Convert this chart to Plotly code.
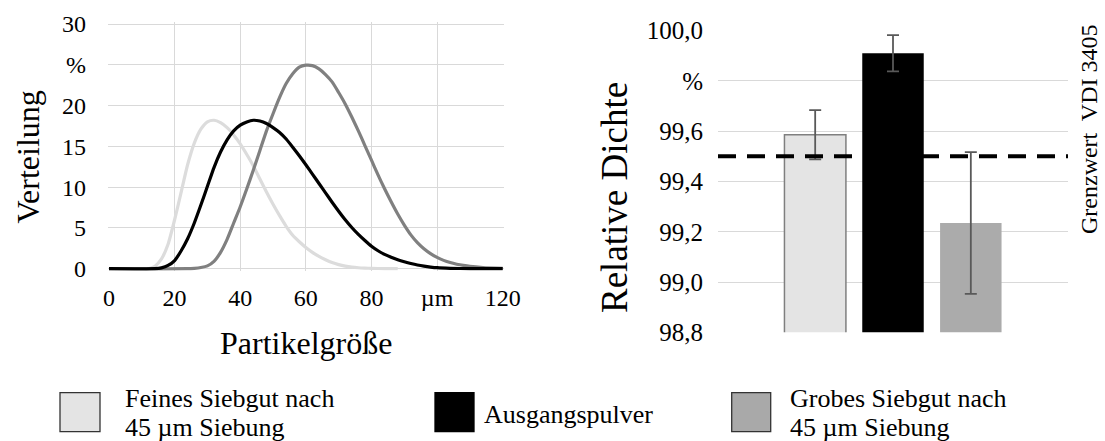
import plotly.graph_objects as go

# ---------------- data ----------------
# Partikelgrößenverteilung (µm -> %)
x_fein = [0, 10, 12, 14, 16, 18, 20, 22, 24, 26, 28, 30, 32, 34, 36, 38, 40, 42, 44, 46, 48, 50,
          52, 54, 56, 58, 60, 62, 64, 66, 68, 70, 72, 74, 76, 78, 80, 84, 88]
y_fein = [0, 0, 0, 0.3, 1.2, 3.0, 6.0, 9.4, 12.8, 15.4, 17.1, 18.0, 18.2, 17.9, 17.3, 16.4, 15.3, 14.0,
          12.6, 11.0, 9.4, 7.9, 6.5, 5.2, 4.1, 3.3, 2.6, 2.0, 1.5, 1.1, 0.75, 0.5, 0.32, 0.2, 0.12,
          0.07, 0.04, 0.01, 0]

x_ausgang = [0, 14, 16, 18, 20, 22, 24, 26, 28, 30, 32, 34, 36, 38, 40, 42, 44, 46, 48, 50, 52, 54,
             56, 58, 60, 62, 64, 66, 68, 70, 72, 74, 76, 78, 80, 82, 84, 86, 88, 90, 92, 94, 96, 98,
             100, 104, 110, 120]
y_ausgang = [0, 0, 0.1, 0.4, 1.0, 2.2, 3.7, 5.6, 7.8, 10.1, 12.4, 14.3, 15.8, 16.9, 17.6, 18.0, 18.2,
             18.1, 17.8, 17.3, 16.7, 15.9, 14.9, 13.85, 12.75, 11.6, 10.45, 9.3, 8.15, 7.05, 6.0, 5.05,
             4.2, 3.45, 2.75, 2.2, 1.75, 1.4, 1.1, 0.85, 0.63, 0.45, 0.31, 0.2, 0.12, 0.05, 0.01, 0]

x_grob = [0, 24, 26, 28, 30, 32, 34, 36, 38, 40, 42, 44, 46, 48, 50, 52, 54, 56, 58, 60, 62, 64, 66,
          68, 70, 72, 74, 76, 78, 80, 82, 84, 86, 88, 90, 92, 94, 96, 98, 100, 102, 104, 106, 108,
          110, 114, 120]
y_grob = [0, 0, 0.05, 0.15, 0.35, 0.9, 2.0, 3.6, 5.6, 7.6, 9.8, 12.1, 14.5, 16.9, 19.0, 21.0, 22.7,
          23.9, 24.7, 24.95, 24.9, 24.5, 23.8, 22.9, 21.6, 20.2, 18.6, 16.9, 15.1, 13.3, 11.5, 9.8,
          8.2, 6.7, 5.35, 4.15, 3.2, 2.45, 1.85, 1.38, 1.02, 0.75, 0.55, 0.4, 0.28, 0.14, 0.05]

x_tickvals = [0, 20, 40, 60, 80, 100, 120]
x_ticktext = ["0", "20", "40", "60", "80", "µm", "120"]
y_tickvals = [0, 5, 10, 15, 20, 25, 30]
y_ticktext = ["0", "5", "10", "15", "20", "%", "30"]

# Relative Dichte (%)
serien = ["Feines Siebgut nach 45 µm Siebung", "Ausgangspulver", "Grobes Siebgut nach 45 µm Siebung"]
dichte = [99.586, 99.910, 99.235]
dichte_err = [0.098, 0.072, 0.282]
grenzwert = 99.5
d_tickvals = [98.8, 99.0, 99.2, 99.4, 99.6, 99.8, 100.0]
d_ticktext = ["98,8", "99,0", "99,2", "99,4", "99,6", "%", "100,0"]

# ---------------- styling ----------------
W, H = 1105, 441
FONT = "'Liberation Serif', 'Times New Roman', Times, serif"
GRID = "#d9d9d9"
c_fein, c_ausgang, c_grob = "#dcdcdc", "#000000", "#808080"
bar_fill = ["#e4e4e4", "#000000", "#ababab"]
bar_line = ["#7f7f7f", "#000000", "#ababab"]


def px_x(p):
    return p / W


def px_y(p):
    return 1 - p / H


fig = go.Figure()

# left chart lines (light, grey, black on top)
for xs, ys, col in [(x_fein, y_fein, c_fein), (x_grob, y_grob, c_grob), (x_ausgang, y_ausgang, c_ausgang)]:
    fig.add_trace(go.Scatter(x=xs, y=ys, mode="lines", line=dict(color=col, width=3.2, shape="spline", smoothing=0.6),
                             xaxis="x", yaxis="y", showlegend=False, hoverinfo="skip"))

# right chart bars
for i in range(3):
    fig.add_trace(go.Bar(x=["Dichte"], y=[dichte[i]], name=serien[i],
                         marker=dict(color=bar_fill[i], line=dict(color=bar_line[i], width=1.5 if i == 0 else 0)),
                         error_y=dict(type="data", array=[dichte_err[i]], color="#595959", thickness=1.8, width=6),
                         xaxis="x2", yaxis="y2", showlegend=False, hoverinfo="skip"))

# left axes (ranges padded slightly so edge gridlines and the zero line are fully drawn)
x0_px, x120_px = 109.0, 502.7
y0_px, y30_px = 268.7, 24.0
xpad, ypad = 0.3, 0.25
ppx = (x120_px - x0_px) / 120
ppy = (y0_px - y30_px) / 30
fig.update_layout(
    xaxis=dict(domain=[px_x(x0_px - xpad * ppx), px_x(x120_px + xpad * ppx)], range=[-xpad, 120 + xpad],
               tickvals=x_tickvals, ticktext=x_ticktext,
               showgrid=True, gridcolor=GRID, gridwidth=1.3, zeroline=False, showline=False, ticks="",
               tickfont=dict(family=FONT, size=24, color="black"), ticklabelstandoff=10,
               anchor="y", automargin=False),
    yaxis=dict(domain=[px_y(y0_px + ypad * ppy), px_y(y30_px - ypad * ppy)], range=[-ypad, 30 + ypad],
               tickvals=y_tickvals, ticktext=y_ticktext, showgrid=True, gridcolor=GRID, gridwidth=1.3,
               zeroline=False, showline=False, ticks="", tickfont=dict(family=FONT, size=24, color="black"),
               ticklabelstandoff=21, anchor="x", automargin=False),
    xaxis2=dict(domain=[px_x(718), px_x(1068)], showgrid=False, showticklabels=False, ticks="",
                zeroline=False, showline=False, anchor="y2", automargin=False),
    yaxis2=dict(domain=[px_y(332.3), px_y(30.7)], range=[98.8, 100.0], tickvals=d_tickvals,
                ticktext=d_ticktext, showgrid=True, gridcolor=GRID, gridwidth=1.3, zeroline=False,
                showline=False, ticks="", tickfont=dict(family=FONT, size=25, color="black"),
                ticklabelstandoff=14, anchor="x2", automargin=False),
    barmode="group", bargap=0.333, bargroupgap=0.21,
    width=W, height=H, margin=dict(l=0, r=0, t=0, b=0),
    paper_bgcolor="white", plot_bgcolor="white", template="none",
    font=dict(family=FONT, color="black"), showlegend=False,
)

# Grenzwert dashed line
fig.add_shape(type="line", xref="x2 domain", x0=0, x1=1, yref="y2", y0=grenzwert, y1=grenzwert,
              line=dict(color="black", width=4, dash="18px,11px"))

# axis titles
anns = [
    dict(text="Verteilung", x=px_x(27.5), y=px_y(157), textangle=-90, size=32),
    dict(text="Partikelgröße", x=px_x(306), y=px_y(343), textangle=0, size=32),
    dict(text="Relative Dichte", x=px_x(614), y=px_y(198), textangle=-90, size=37),
    dict(text="Grenzwert  VDI 3405", x=px_x(1089), y=px_y(129), textangle=-90, size=24),
]
for a in anns:
    fig.add_annotation(text=a["text"], x=a["x"], y=a["y"], xref="paper", yref="paper", showarrow=False,
                       textangle=a["textangle"], xanchor="center", yanchor="middle",
                       font=dict(family=FONT, size=a["size"], color="black"))

# custom legend
leg_sq = [(60, 100), (435, 474), (731.7, 770.7)]
leg_border = ["#333333", "#000000", "#333333"]
leg_fill = ["#e4e4e4", "#000000", "#a9a9a9"]
for (xa, xb), fc, bc in zip(leg_sq, leg_fill, leg_border):
    fig.add_shape(type="rect", xref="paper", yref="paper", x0=px_x(xa), x1=px_x(xb),
                  y0=px_y(431.7), y1=px_y(392.7), fillcolor=fc, line=dict(color=bc, width=1.3))

leg_txt = [
    ("Feines Siebgut nach", 123.3, 398),
    ("45 µm Siebung", 123.3, 427),
    ("Ausgangspulver", 481.7, 414),
    ("Grobes Siebgut nach", 788, 398),
    ("45 µm Siebung", 788, 427),
]
for t, xl, yc in leg_txt:
    fig.add_annotation(text=t, x=px_x(xl), y=px_y(yc), xref="paper", yref="paper", showarrow=False,
                       xanchor="left", yanchor="middle", font=dict(family=FONT, size=26, color="black"))

fig.write_html("out.html", config={"displayModeBar": False},
               post_script="document.body.style.margin='0';document.body.style.overflow='hidden';")
